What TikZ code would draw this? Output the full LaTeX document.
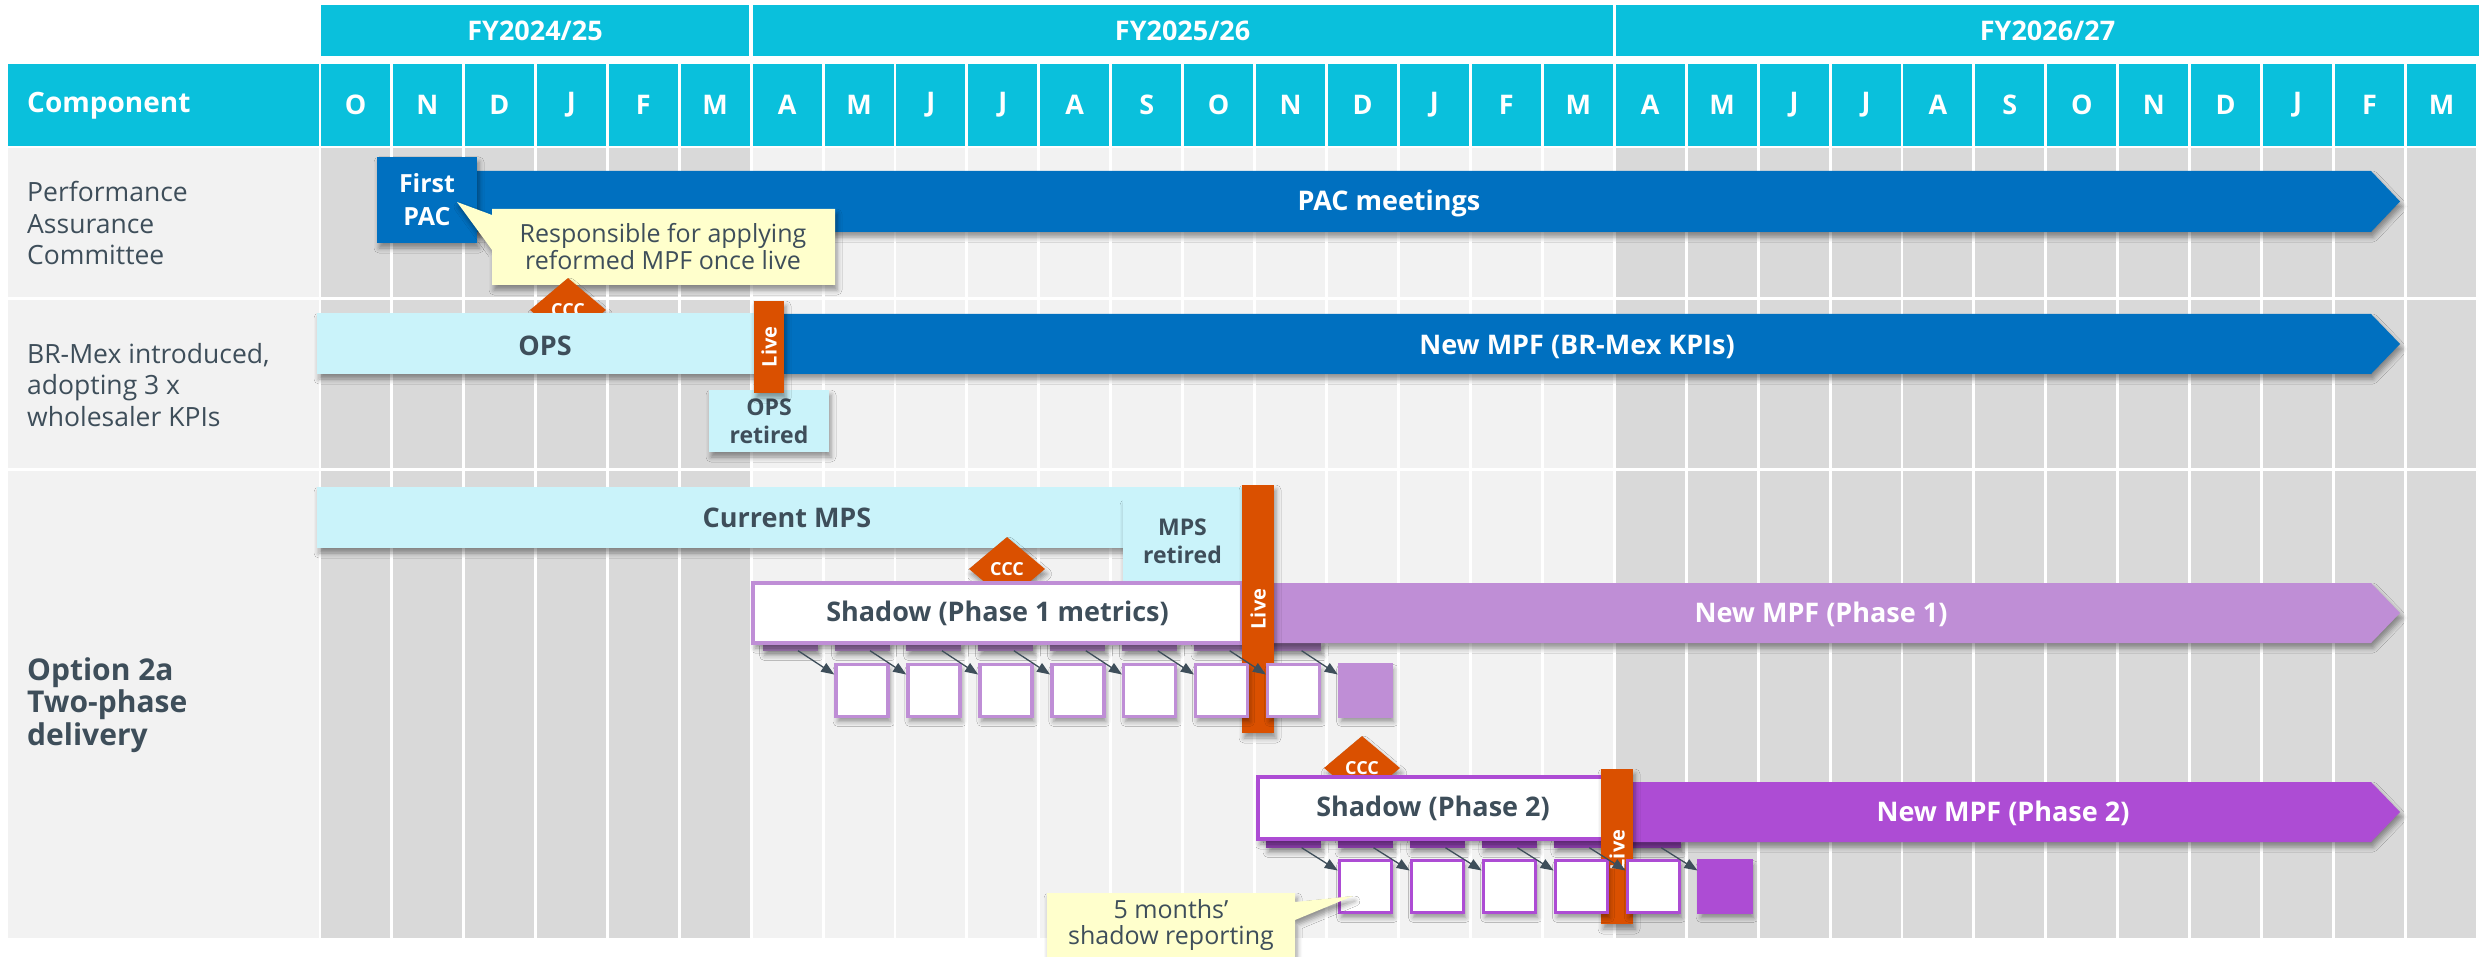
\documentclass[tikz,border=0pt]{standalone}
\usepackage{fontspec}
\setmainfont{Open Sans}
\usetikzlibrary{shapes.geometric,shadows.blur,arrows.meta}

\definecolor{hdrcyan}{RGB}{10,192,220}
\definecolor{cellgray}{RGB}{217,217,217}
\definecolor{celllight}{RGB}{242,242,242}
\definecolor{pacblue}{RGB}{0,112,192}
\definecolor{oldcyan}{RGB}{202,243,250}
\definecolor{liveorange}{RGB}{218,80,0}
\definecolor{phaseone}{RGB}{191,142,214}
\definecolor{phasetwo}{RGB}{173,76,212}
\definecolor{notebg}{RGB}{255,255,204}
\definecolor{slate}{RGB}{62,78,90}

\newcommand{\fsz}[2]{\fontsize{#1}{#2}\selectfont}

\begin{document}
\begin{tikzpicture}[x=1pt, y=-1pt,
    hdr/.style={fill=hdrcyan, text=white, inner sep=0pt, font=\bfseries\fsz{27}{32}},
    rowlbl/.style={anchor=west, align=left, inner sep=0pt, text=slate, font=\fsz{26.5}{31.5}},
    dropsh/.style={blur shadow={shadow xshift=2pt, shadow yshift=-5pt, shadow blur radius=5pt, shadow opacity=40}},
    barlbl/.style={text=white, inner sep=0pt, font=\bfseries\fsz{27}{32}},
    darklbl/.style={text=slate, inner sep=0pt, font=\bfseries\fsz{27}{32}},
    livebar/.style={fill=liveorange, dropsh, inner sep=0pt},
    livetext/.style={rotate=90, inner sep=0pt, text=white, font=\bfseries\fsz{20}{24}},
    ccc/.style={diamond, fill=liveorange, dropsh, minimum width=76pt, minimum height=64pt,
        inner sep=0pt, text=white, font=\bfseries\fsz{18}{20}},
    retired/.style={fill=oldcyan, dropsh, align=center, inner sep=0pt, text=slate,
        font=\bfseries\fsz{23}{28}},
    shadowbox/.style={fill=white, line width=4pt, dropsh, inner sep=0pt, text=slate,
        font=\bfseries\fsz{27}{32}},
    monthbox/.style={fill=white, line width=3.5pt, minimum size=52pt, inner sep=0pt, dropsh},
    tabmark/.style={minimum width=55pt, minimum height=9pt, inner sep=0pt, dropsh},
    flow/.style={draw=slate, line width=1.3pt, -{Triangle[length=13pt,width=10pt]}},
    notetext/.style={align=center, inner sep=0pt, text=slate, font=\fsz{25}{27}}
]
    \useasboundingbox (0,0) rectangle (2479,957);

    % header and grid
    \foreach \m [count=\k from 0] in {O,N,D,J,F,M,A,M,J,J,A,S,O,N,D,J,F,M,A,M,J,J,A,S,O,N,D,J,F,M} {
        \pgfmathsetmacro\xl{321+71.93*\k}
        \ifnum\k<6 \def\cc{cellgray}\else\ifnum\k<18 \def\cc{celllight}\else\def\cc{cellgray}\fi\fi
        \fill[\cc] (\xl,148) rectangle ++(69,149);
        \fill[\cc] (\xl,300) rectangle ++(69,168);
        \fill[\cc] (\xl,471) rectangle ++(69,467);
        \node[hdr, minimum width=69pt, minimum height=82pt] (mon\k) at (\xl+34.5,105) {\m};
    }
    \node[hdr, minimum width=428pt, minimum height=51pt] (fyA) at (535,30.5) {FY2024/25};
    \node[hdr, minimum width=860pt, minimum height=51pt] (fyB) at (1182.6,30.5) {FY2025/26};
    \node[hdr, minimum width=864pt, minimum height=51pt] (fyC) at (2047.5,30.5) {FY2026/27};

    \fill[hdrcyan] (8,64) rectangle (319,146);
    \node[hdr, anchor=west, font=\bfseries\fsz{28}{32}] (comp) at (27,106) {Component};
    \fill[celllight] (8,148) rectangle (319,297);
    \fill[celllight] (8,300) rectangle (319,468);
    \fill[celllight] (8,471) rectangle (319,938);
    \node[rowlbl] (lblpac) at (27,223) {Performance\\Assurance\\Committee};
    \node[rowlbl] (lblbrmex) at (27,385) {BR-Mex introduced,\\adopting 3 x\\wholesaler KPIs};
    \node[rowlbl, font=\bfseries\fsz{30}{32.5}] (lblopt) at (27,705) {Option 2a\\Two-phase\\delivery};

    % PAC row
    \fill[pacblue, dropsh] (420,171) -- (2371,171) -- (2400,201.5) -- (2371,232) -- (420,232) -- cycle;
    \node[barlbl] (pacmeet) at (1389,203) {PAC meetings};
    \node[fill=pacblue, dropsh, text=white, align=center, inner sep=0pt, minimum width=100pt,
        minimum height=86pt, font=\bfseries\fsz{25}{33}] (firstpac) at (427,200) {First\\PAC};
    \fill[notebg, dropsh] (492,209) -- (835,209) -- (835,285) -- (492,285) -- (492,250)
        -- (457,202) -- (492,215) -- cycle;
    \node[notetext] (resp) at (663,247) {Responsible for applying\\reformed MPF once live};
    \node[ccc] (cccA) at (568,310) {CCC};

    % BR-Mex row
    \fill[oldcyan, dropsh] (317,313) rectangle (760,374);
    \node[darklbl] (ops) at (545,346) {OPS};
    \fill[pacblue, dropsh] (780,314) -- (2371,314) -- (2400,344) -- (2371,374) -- (780,374) -- cycle;
    \node[barlbl] (mpfbr) at (1577,347) {New MPF (BR-Mex KPIs)};
    \node[retired, minimum width=120pt, minimum height=62pt] (opsret) at (769,421) {OPS\\retired};
    \node[livebar, minimum width=30pt, minimum height=92pt] (liveA) at (769,347) {};
    \node[livetext] (liveAt) at (liveA) {Live};

    % option 2a, phase 1
    \fill[oldcyan, dropsh] (317,487) rectangle (1242,548);
    \node[darklbl] (curmps) at (787,518) {Current MPS};
    \node[retired, minimum width=119pt, minimum height=82pt] (mpsret) at (1182.5,541) {MPS\\retired};
    \node[ccc] (cccB) at (1007,569) {CCC};
    \foreach \k in {6,...,13} {
        \pgfmathsetmacro\xc{321+71.93*\k+37.5}
        \node[tabmark, fill=phaseone!80!black] (tabA\k) at (\xc,646) {};
    }
    \node[shadowbox, draw=phaseone, minimum width=489pt, minimum height=60pt] (shA) at (997.5,613)
        {Shadow (Phase 1 metrics)};
    \fill[phaseone, dropsh] (1250,583) -- (2371,583) -- (2400,613) -- (2371,643) -- (1250,643) -- cycle;
    \node[barlbl] (mpfA) at (1821,614) {New MPF (Phase 1)};
    \node[livebar, minimum width=32pt, minimum height=248pt] (liveB) at (1258,609) {};
    \node[livetext] (liveBt) at (liveB) {Live};
    \foreach \k in {7,...,13} {
        \pgfmathsetmacro\xc{321+71.93*\k+37.5}
        \node[monthbox, draw=phaseone] (bxA\k) at (\xc,690.5) {};
    }
    \node[monthbox, fill=phaseone, draw=phaseone] (bxA14) at (1365.5,690.5) {};
    \foreach \k in {6,...,13} {
        \pgfmathtruncatemacro\j{\k+1}
        \draw[flow] ([xshift=8pt]tabA\k.south) -- (bxA\j.150);
    }

    % option 2a, phase 2
    \node[ccc] (cccC) at (1362,768) {CCC};
    \foreach \k in {13,...,18} {
        \pgfmathsetmacro\xc{321+71.93*\k+37.5}
        \node[tabmark, fill=phasetwo!80!black] (tabB\k) at (\xc,843) {};
    }
    \node[shadowbox, draw=phasetwo, minimum width=350pt, minimum height=62pt] (shB) at (1433,808)
        {Shadow (Phase 2)};
    \fill[phasetwo, dropsh] (1620,782) -- (2371,782) -- (2400,812) -- (2371,842) -- (1620,842) -- cycle;
    \node[barlbl] (mpfB) at (2003,813) {New MPF (Phase 2)};
    \node[livebar, minimum width=32pt, minimum height=155pt] (liveC) at (1617,846.5) {};
    \node[livetext] (liveCt) at (1617,850) {Live};
    \foreach \k in {14,...,18} {
        \pgfmathsetmacro\xc{321+71.93*\k+37.5}
        \node[monthbox, draw=phasetwo] (bxB\k) at (\xc,886.5) {};
    }
    \node[monthbox, fill=phasetwo, draw=phasetwo] (bxB19) at (1725.2,886.5) {};
    \foreach \k in {13,...,18} {
        \pgfmathtruncatemacro\j{\k+1}
        \draw[flow] ([xshift=8pt]tabB\k.south) -- (bxB\j.150);
    }
    \fill[notebg, dropsh] (1047,893) -- (1295,893) -- (1295,902) -- (1353,896) -- (1295,920)
        -- (1295,960) -- (1047,960) -- cycle;
    \node[notetext, font=\fsz{25}{26}] (fivemon) at (1171,925) {5 months’\\shadow reporting};
\end{tikzpicture}
\end{document}
